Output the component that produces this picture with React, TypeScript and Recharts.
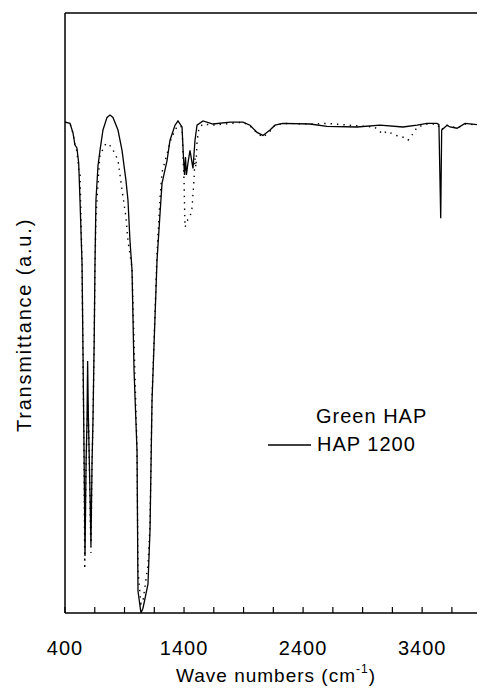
import React from 'react';
import { LineChart, Line, XAxis, YAxis, ReferenceLine, Legend } from 'recharts';

// HAP 1200 (solid line)
const hap1200Wavenumbers = [
  400, 442, 467, 484, 500, 515, 526, 543, 551, 560,
  568, 577, 585, 590, 596, 610, 618, 627, 635, 645,
  652, 660, 677, 694, 719, 753, 778, 803, 845, 879,
  912, 929, 946, 963, 980, 1005, 1013, 1038, 1055, 1097,
  1114, 1131, 1156, 1173, 1198, 1215, 1257, 1282, 1324, 1349,
  1383, 1395, 1404, 1412, 1420, 1433, 1450, 1475, 1492, 1509,
  1559, 1643, 1786, 1895, 1954, 2013, 2063, 2122, 2164, 2231,
  2458, 2601, 2853, 3046, 3239, 3357, 3441, 3525, 3541, 3556,
  3564, 3609, 3634, 3693, 3760, 3911, 3930,
];
const hap1200Values = [
  81.8, 81.6, 80.0, 78.0, 77.5, 75.0, 68.8, 58.3, 43.7, 27.0,
  9.5, 25.0, 32.1, 42.0, 33.0, 20.0, 11.2, 25.0, 32.1, 45.0,
  58.3, 68.8, 74.5, 77.1, 80.5, 82.6, 83.0, 82.6, 80.5, 77.1,
  72.1, 68.8, 62.0, 57.1, 40.4, 27.0, 3.7, 0.0, 0.8, 4.8,
  13.7, 35.4, 49.2, 58.8, 66.5, 71.6, 75.4, 78.8, 81.3, 82.0,
  81.0, 76.0, 73.0, 76.0, 73.0, 75.0, 77.1, 74.1, 78.8, 81.3,
  82.0, 81.5, 81.8, 81.8, 81.3, 80.1, 79.6, 80.5, 81.3, 81.6,
  81.5, 81.1, 81.0, 81.3, 81.0, 81.3, 81.6, 81.6, 81.4, 65.8,
  80.5, 81.3, 81.0, 80.8, 81.6, 81.3, 81.3,
];

// Green HAP (dotted line)
const greenHapWavenumbers = [
  400, 442, 467, 484, 500, 515, 526, 543, 551, 560,
  566, 575, 585, 593, 600, 610, 618, 627, 635, 645,
  652, 660, 686, 694, 736, 760, 795, 845, 862, 879,
  912, 929, 963, 980, 1005, 1013, 1038, 1055, 1097, 1114,
  1131, 1156, 1173, 1198, 1215, 1257, 1282, 1324, 1349, 1383,
  1400, 1408, 1430, 1450, 1467, 1483, 1492, 1500, 1509, 1525,
  1560, 1643, 1786, 1895, 1954, 2013, 2063, 2122, 2164, 2231,
  2458, 2601, 2853, 3000, 3071, 3100, 3180, 3240, 3281, 3320,
  3360, 3441, 3525, 3558, 3609, 3693, 3760, 3911, 3930,
];
const greenHapValues = [
  81.8, 81.6, 80.0, 78.0, 77.0, 74.0, 73.5, 58.0, 43.0, 25.0,
  7.3, 22.0, 32.0, 35.0, 30.0, 18.0, 10.0, 25.0, 32.0, 45.0,
  58.0, 66.0, 74.3, 76.3, 78.0, 78.3, 77.5, 75.5, 73.0, 70.5,
  66.0, 62.0, 57.5, 45.0, 27.5, 7.0, 1.5, 2.0, 8.0, 14.5,
  36.0, 50.0, 60.0, 69.0, 73.5, 76.5, 78.5, 80.5, 81.2, 81.0,
  72.0, 64.3, 65.5, 66.0, 67.5, 72.0, 75.8, 74.3, 78.5, 80.8,
  81.5, 81.3, 81.6, 81.8, 81.2, 80.0, 79.3, 80.3, 81.3, 81.6,
  81.5, 81.6, 81.2, 81.0, 79.8, 80.3, 79.6, 79.3, 78.8, 79.8,
  81.0, 81.5, 81.5, 80.5, 81.3, 80.8, 81.5, 81.3, 81.3,
];

const seriesNames = ['Green HAP', 'HAP 1200'];
const xTicks = [400, 650, 900, 1150, 1400, 1650, 1900, 2150, 2400, 2650, 2900, 3150, 3400, 3650, 3900];
const labeledTicks = [400, 1400, 2400, 3400];
const xTitle = 'Wave numbers (cm';
const xTitleSup = '-1';
const yTitle = 'Transmittance (a.u.)';

const hap1200Data = hap1200Wavenumbers.map((w, i) => ({ wn: w, t: hap1200Values[i] }));
const greenHapData = greenHapWavenumbers.map((w, i) => ({ wn: w, t: greenHapValues[i] }));

const FONT = '"Liberation Sans", Arial, sans-serif';

const XTick = (props: any) => {
  const { x, y, payload } = props;
  const show = labeledTicks.includes(payload.value);
  return (
    <g>
      <line x1={x} x2={x} y1={y} y2={y - 6} stroke="#000" strokeWidth={1.2} />
      {show && (
        <text x={x} y={y + 42} textAnchor="middle" fontSize={20} letterSpacing={1} fontFamily={FONT} fill="#000">
          {payload.value}
        </text>
      )}
    </g>
  );
};

const XTitle = (props: any) => {
  const vb = props.viewBox || { x: 57, y: 605, width: 420 };
  return (
    <text x={vb.x + 211} y={vb.y + 69} textAnchor="middle" fontSize={19} letterSpacing={1} fontFamily={FONT} fill="#000">
      {xTitle}
      <tspan dy={-9} fontSize={12}>{xTitleSup}</tspan>
      <tspan dy={9}>)</tspan>
    </text>
  );
};

const YTitle = (props: any) => {
  const vb = props.viewBox || { x: 0, y: 5 };
  const cx = vb.x + 16;
  const cy = vb.y + 312;
  return (
    <text
      x={cx}
      y={cy}
      transform={`rotate(-90, ${cx}, ${cy})`}
      textAnchor="middle"
      dominantBaseline="central"
      fontSize={20}
      letterSpacing={1.8}
      fontFamily={FONT}
      fill="#000"
    >
      {yTitle}
    </text>
  );
};

const LegendContent = () => (
  <svg width={200} height={60}>
    <text x={58} y={20} fontSize={20} letterSpacing={1} fontFamily={FONT} fill="#000">{seriesNames[0]}</text>
    <line x1={10} x2={53} y1={42} y2={42} stroke="#000" strokeWidth={1.3} />
    <text x={59} y={48} fontSize={20} letterSpacing={1} fontFamily={FONT} fill="#000">{seriesNames[1]}</text>
  </svg>
);

export default function App() {
  return (
    <div style={{ width: 477, height: 680 }}>
      <LineChart width={477} height={680} margin={{ top: 5, right: 0, bottom: 0, left: 0 }}>
        <XAxis
          dataKey="wn"
          type="number"
          domain={[400, 3928]}
          allowDataOverflow
          ticks={xTicks}
          interval={0}
          tickSize={0}
          tickMargin={0}
          tick={<XTick />}
          axisLine={{ stroke: '#000', strokeWidth: 1.5 }}
          height={75}
          label={<XTitle />}
        />
        <YAxis
          type="number"
          domain={[0, 100]}
          allowDataOverflow
          width={57}
          tick={false}
          tickLine={false}
          axisLine={{ stroke: '#000', strokeWidth: 1.5 }}
          label={<YTitle />}
        />
        <ReferenceLine y={100} stroke="#000" strokeWidth={1.5} />
        <Line
          data={greenHapData}
          dataKey="t"
          name={seriesNames[0]}
          stroke="#000"
          strokeWidth={1.4}
          strokeDasharray="1.4 5"
          dot={false}
          activeDot={false}
          isAnimationActive={false}
        />
        <Line
          data={hap1200Data}
          dataKey="t"
          name={seriesNames[1]}
          stroke="#000"
          strokeWidth={1.3}
          dot={false}
          activeDot={false}
          isAnimationActive={false}
        />
        <Legend
          layout="horizontal"
          verticalAlign="middle"
          align="center"
          content={<LegendContent />}
          wrapperStyle={{ left: 250, top: 395, width: 200, height: 60 }}
        />
      </LineChart>
    </div>
  );
}
